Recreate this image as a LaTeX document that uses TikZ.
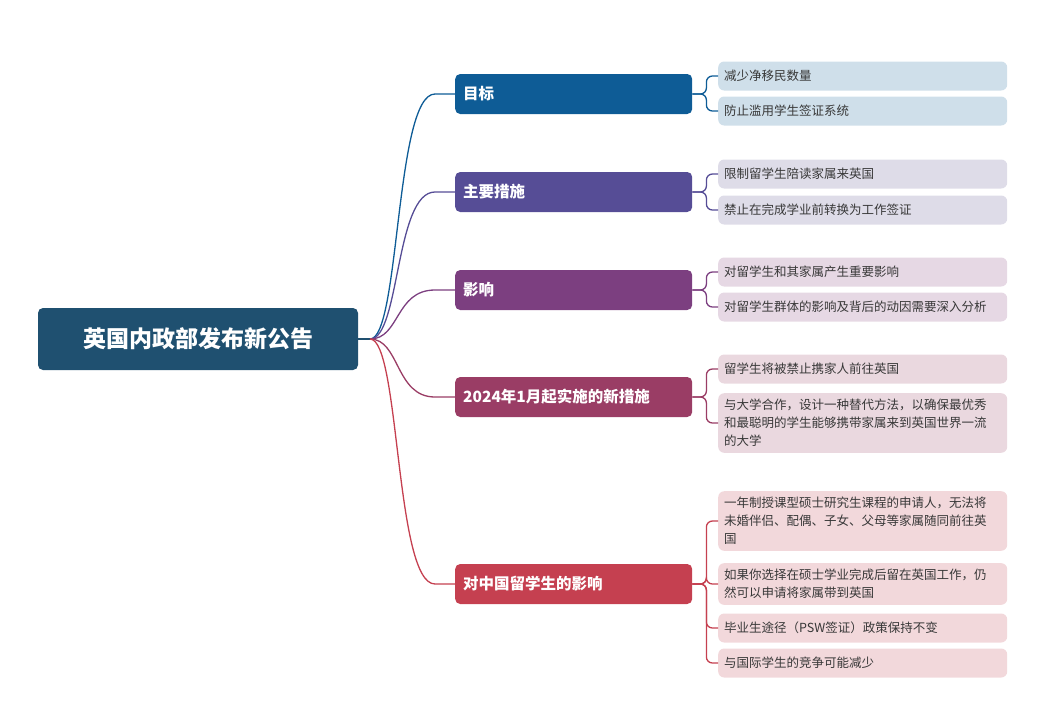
\documentclass[tikz,border=0pt]{standalone}
\usepackage{fontspec}
\setmainfont{Noto Sans CJK SC}
\begin{document}
\begin{tikzpicture}[x=1pt,y=-1pt,
  root/.style={fill=c0,rounded corners=5pt,minimum width=320pt,minimum height=62pt,text=white,font=\fontsize{23}{26}\selectfont\bfseries},
  br/.style={fill=#1,rounded corners=5pt,minimum width=237pt,minimum height=40pt,text=white,anchor=west,text width=221pt,align=left,inner xsep=8pt,font=\fontsize{15.5}{18}\selectfont\bfseries},
  lf/.style={fill=#1,rounded corners=6pt,anchor=west,text width=277pt,align=left,inner xsep=6pt,inner ysep=6pt,minimum height=29pt,text=black!78,font=\fontsize{12.5}{18}\selectfont},
  con/.style={draw=#1,line width=1.3pt},
  lk/.style={draw=#1,line width=1.3pt,rounded corners=6pt}]
\definecolor{c0}{HTML}{1F5070}
\definecolor{c1}{HTML}{0E5C96}\definecolor{l1}{HTML}{CFDFEA}
\definecolor{c2}{HTML}{564D96}\definecolor{l2}{HTML}{DEDCE8}
\definecolor{c3}{HTML}{7C3F80}\definecolor{l3}{HTML}{E6D8E4}
\definecolor{c4}{HTML}{9A3D65}\definecolor{l4}{HTML}{EAD8DF}
\definecolor{c5}{HTML}{C54050}\definecolor{l5}{HTML}{F2D8DB}
\useasboundingbox (0,0) rectangle (1055,702);
\node[root] (r) at (198,339) {英国内政部发布新公告};
\coordinate (rs) at (370,339);
\draw[c0,line width=1.3pt] (r.east) -- (rs);
\node[br=c1] (b1) at (455,94) {目标};
\node[br=c2] (b2) at (455,192) {主要措施};
\node[br=c3] (b3) at (455,290) {影响};
\node[br=c4] (b4) at (455,397) {2024年1月起实施的新措施};
\node[br=c5] (b5) at (455,584) {对中国留学生的影响};
\foreach \b/\c in {b1/c1,b2/c2,b3/c3,b4/c4,b5/c5}
  \draw[con=\c] (rs) .. controls (400,339) and (395,0|-\b.west) .. (435,0|-\b.west) -- (\b.west);
\node[lf=l1] (l11) at (718,76) {减少净移民数量};
\node[lf=l1] (l12) at (718,111) {防止滥用学生签证系统};
\node[lf=l2] (l21) at (718,174) {限制留学生陪读家属来英国};
\node[lf=l2] (l22) at (718,210) {禁止在完成学业前转换为工作签证};
\node[lf=l3] (l31) at (718,272) {对留学生和其家属产生重要影响};
\node[lf=l3] (l32) at (718,307) {对留学生群体的影响及背后的动因需要深入分析};
\node[lf=l4] (l41) at (718,369) {留学生将被禁止携家人前往英国};
\node[lf=l4] (l42) at (718,423) {与大学合作，设计一种替代方法，以确保最优秀\\和最聪明的学生能够携带家属来到英国世界一流\\的大学};
\node[lf=l5] (l51) at (718,521) {一年制授课型硕士研究生课程的申请人，无法将\\未婚伴侣、配偶、子女、父母等家属随同前往英\\国};
\node[lf=l5] (l52) at (718,584) {如果你选择在硕士学业完成后留在英国工作，仍\\然可以申请将家属带到英国};
\node[lf=l5] (l53) at (718,628) {毕业生途径（PSW签证）政策保持不变};
\node[lf=l5] (l54) at (718,663) {与国际学生的竞争可能减少};
\foreach \b/\l/\c in {b1/l11/c1,b1/l12/c1,b2/l21/c2,b2/l22/c2,b3/l31/c3,b3/l32/c3,b4/l41/c4,b4/l42/c4,b5/l51/c5,b5/l52/c5,b5/l53/c5,b5/l54/c5}
  \draw[lk=\c] (\b.east) -- ++(14,0) |- (\l.west);
\end{tikzpicture}
\end{document}
